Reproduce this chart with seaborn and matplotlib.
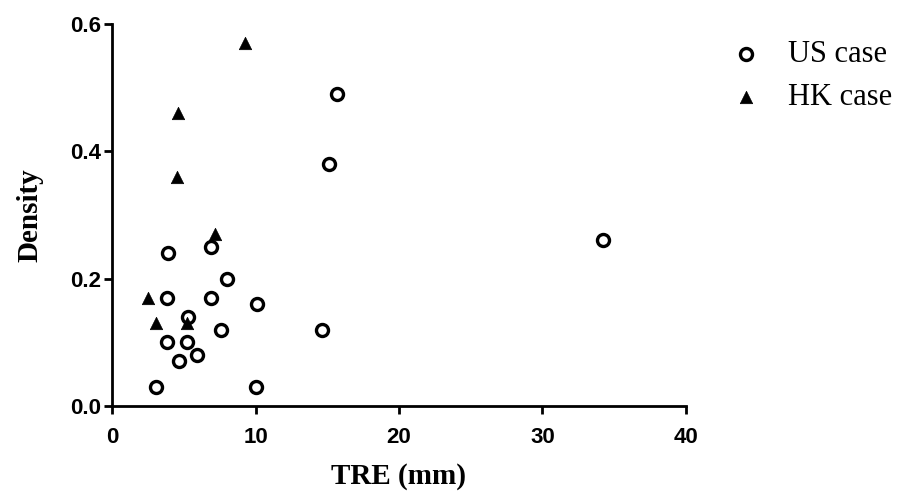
import pandas as pd
import seaborn as sns
import matplotlib.pyplot as plt

# dados
us_tre = [15.7, 15.1, 34.2, 14.6, 6.9, 3.9, 8.0, 3.8, 6.9, 10.1, 5.3, 7.6, 3.85, 5.2, 5.9, 4.7, 3.1, 10.0]
us_density = [0.49, 0.38, 0.26, 0.12, 0.25, 0.24, 0.20, 0.17, 0.17, 0.16, 0.14, 0.12, 0.10, 0.10, 0.08, 0.07, 0.03, 0.03]

hk_tre = [9.3, 4.6, 4.5, 7.2, 2.5, 3.1, 5.2]
hk_density = [0.57, 0.46, 0.36, 0.27, 0.17, 0.13, 0.13]

df_us = pd.DataFrame({'TRE': us_tre, 'Density': us_density})
df_hk = pd.DataFrame({'TRE': hk_tre, 'Density': hk_density})

sns.set_style('ticks')
plt.rcParams['text.color'] = 'black'
plt.rcParams['axes.labelcolor'] = 'black'
plt.rcParams['xtick.color'] = 'black'
plt.rcParams['ytick.color'] = 'black'

fig = plt.figure(figsize=(9.07, 4.96), dpi=100)
ax = fig.add_axes([0.1235, 0.1815, 0.6328, 0.7701])

sns.scatterplot(data=df_us, x='TRE', y='Density', ax=ax, marker='o', s=75,
                color='white', edgecolor='black', linewidth=2.4, label='US case', zorder=3)
sns.scatterplot(data=df_hk, x='TRE', y='Density', ax=ax, marker='^', s=80,
                color='black', edgecolor='black', linewidth=0.5, label='HK case', zorder=4)

ax.set_xlim(0, 40)
ax.set_ylim(0, 0.6)
ax.set_xticks([0, 10, 20, 30, 40])
ax.set_yticks([0.0, 0.2, 0.4, 0.6])
ax.set_yticklabels(['0.0', '0.2', '0.4', '0.6'])

for lab in ax.get_xticklabels() + ax.get_yticklabels():
    lab.set_family('Liberation Sans')
    lab.set_fontweight('bold')
    lab.set_fontsize(16)

ax.tick_params(direction='out', length=6, width=2, colors='black')
ax.tick_params(axis='x', pad=9)
ax.tick_params(axis='y', pad=2)
sns.despine(ax=ax)
for sp in ['left', 'bottom']:
    ax.spines[sp].set_linewidth(2)
    ax.spines[sp].set_color('black')

ax.set_xlabel('TRE (mm)', family='Liberation Serif', fontweight='bold', fontsize=21, labelpad=11)
ax.set_ylabel('Density', family='Liberation Serif', fontweight='bold', fontsize=21, labelpad=19)

leg = ax.legend(loc='upper left', bbox_to_anchor=(1.056, 0.99), frameon=False,
                prop={'family': 'Liberation Serif', 'size': 22}, handlelength=1.0,
                handletextpad=0.9, labelspacing=0.45, borderaxespad=0)

fig.savefig('out.png', dpi=100)
